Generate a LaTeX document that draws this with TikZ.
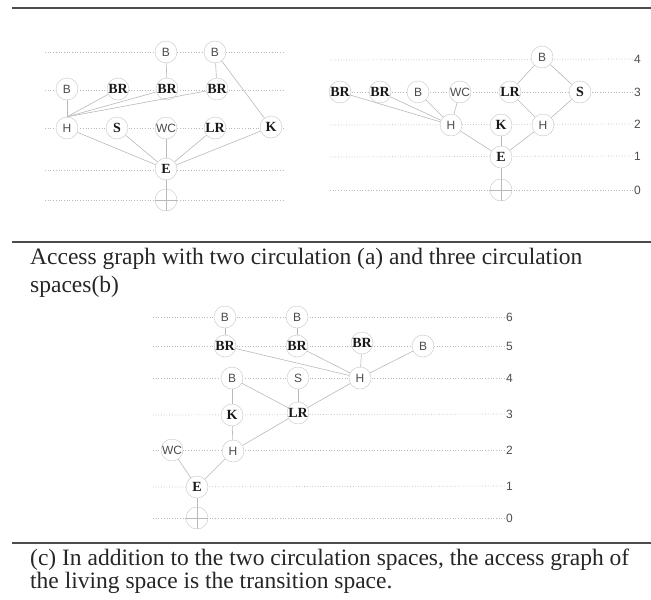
\documentclass[tikz,border=0pt]{standalone}
\usepackage{fontspec}
\setmainfont{Liberation Serif}
\newfontfamily\labelsans{Liberation Sans}
\tikzstyle{edgeline} = [draw=gray!55, line width=0.6pt]
\tikzstyle{levelline} = [
  draw=gray!55,
  dotted,
  line width=0.7pt
]
\tikzstyle{roomsans} = [
  circle,
  minimum size=22pt,
  inner sep=0pt,
  draw=gray!45,
  fill=white,
  text=black!70,
  font=\labelsans\fontsize{12}{12}\selectfont
]
\tikzstyle{roomserif} = [
  roomsans,
  text=black!90,
  font=\bfseries\fontsize{14}{14}\selectfont
]
\tikzstyle{exterior} = [
  circle,
  minimum size=22pt,
  inner sep=0pt,
  draw=gray!45,
  fill=white
]
\tikzstyle{levelnum} = [
  anchor=west,
  inner sep=1pt,
  text=black!70,
  font=\labelsans\fontsize{12}{12}\selectfont
]
\tikzstyle{rule} = [draw=black!70, line width=1.5pt]
% base anchor sits on the last line of a caption
\tikzstyle{caption} = [
  anchor=base west,
  inner sep=0pt,
  align=left,
  text=black!85
]

\begin{document}
\begin{tikzpicture}[x=1pt, y=-1pt]
  \useasboundingbox (0,0) rectangle (651,600);

  \draw[rule] (12,8) -- (651,8);

  %% (a) two circulation spaces
  \draw[levelline] (45,52) -- (283,52);
  \draw[levelline] (45,90) -- (283,90);
  \draw[levelline] (45,128) -- (283,128);
  \draw[levelline] (45,170) -- (283,170);
  \draw[levelline] (45,200) -- (283,200);

  \node[roomsans] (aB1) at (166,52) {B};
  \node[roomsans] (aB2) at (215,52) {B};
  \node[roomsans] (aB3) at (67,89) {B};
  \node[roomserif] (aBR1) at (118,89) {BR};
  \node[roomserif] (aBR2) at (167,89) {BR};
  \node[roomserif] (aBR3) at (217,89) {BR};
  \node[roomsans] (aH) at (67,128) {H};
  \node[roomserif] (aS) at (117,128) {S};
  \node[roomsans] (aWC) at (166,128) {WC};
  \node[roomserif] (aLR) at (215,128) {LR};
  \node[roomserif] (aK) at (271,127) {K};
  \node[roomserif] (aE) at (166,169) {E};
  \node[exterior] (aO) at (166,200) {};

  \draw[edgeline] (aB1) -- (aBR2);
  \draw[edgeline] (aB2) -- (aBR3);
  \draw[edgeline] (aB2) -- (aK);
  \draw[edgeline] (aB3) -- (aH);
  \draw[edgeline] (aBR1) -- (aH.north);
  \draw[edgeline] (aBR2) -- (aH.north);
  \draw[edgeline] (aBR3) -- (aH.north);
  \draw[edgeline] (aH) -- (aE);
  \draw[edgeline] (aS) -- (aE);
  \draw[edgeline] (aWC) -- (aE);
  \draw[edgeline] (aLR) -- (aE);
  \draw[edgeline] (aK) -- (aE);
  \draw[edgeline] (aE) -- (aO);
  \draw[edgeline] (aO.north) -- (aO.south);
  \draw[edgeline] (aO.west) -- (aO.east);

  %% (b) three circulation spaces
  \node[levelnum] (bL4) at (633,59) {4};
  \node[levelnum] (bL3) at (633,92) {3};
  \node[levelnum] (bL2) at (633,124) {2};
  \node[levelnum] (bL1) at (633,156) {1};
  \node[levelnum] (bL0) at (633,190) {0};
  \draw[levelline] (330,60) -- (bL4);
  \draw[levelline] (330,92) -- (bL3);
  \draw[levelline] (330,125) -- (bL2);
  \draw[levelline] (330,157) -- (bL1);
  \draw[levelline] (330,190) -- (bL0);

  \node[roomsans] (bB1) at (542,57) {B};
  \node[roomserif] (bBR1) at (340,92) {BR};
  \node[roomserif] (bBR2) at (380,92) {BR};
  \node[roomsans] (bB2) at (418,92) {B};
  \node[roomsans] (bWC) at (460,92) {WC};
  \node[roomserif] (bLR) at (510,92) {LR};
  \node[roomserif] (bS) at (580,92) {S};
  \node[roomsans] (bH1) at (451,125) {H};
  \node[roomserif] (bK) at (501,125) {K};
  \node[roomsans] (bH2) at (543,125) {H};
  \node[roomserif] (bE) at (501,157) {E};
  \node[exterior] (bO) at (501,190) {};

  \draw[edgeline] (bB1) -- (bLR);
  \draw[edgeline] (bB1) -- (bS);
  \draw[edgeline] (bBR1) -- (bH1);
  \draw[edgeline] (bBR2) -- (bH1);
  \draw[edgeline] (bB2) -- (bH1);
  \draw[edgeline] (bWC) -- (bH1);
  \draw[edgeline] (bLR) -- (bH2);
  \draw[edgeline] (bS) -- (bH2);
  \draw[edgeline] (bH1) -- (bE);
  \draw[edgeline] (bK) -- (bE);
  \draw[edgeline] (bH2) -- (bE);
  \draw[edgeline] (bE) -- (bO);
  \draw[edgeline] (bO.north) -- (bO.south);
  \draw[edgeline] (bO.west) -- (bO.east);

  \draw[rule] (12,242) -- (651,242);
  \node[caption, font=\fontsize{23.5}{28}\selectfont] (capAB) at (30,292)
    {Access graph with two circulation (a) and three circulation\\spaces(b)};

  %% (c) living space as transition space
  \node[levelnum] (cL6) at (505,317) {6};
  \node[levelnum] (cL5) at (505,346) {5};
  \node[levelnum] (cL4) at (505,378) {4};
  \node[levelnum] (cL3) at (505,414) {3};
  \node[levelnum] (cL2) at (505,450) {2};
  \node[levelnum] (cL1) at (505,486) {1};
  \node[levelnum] (cL0) at (505,518) {0};
  \draw[levelline] (153,317) -- (cL6);
  \draw[levelline] (153,346) -- (cL5);
  \draw[levelline] (153,378) -- (cL4);
  \draw[levelline] (153,415) -- (cL3);
  \draw[levelline] (153,450) -- (cL2);
  \draw[levelline] (153,487) -- (cL1);
  \draw[levelline] (153,518) -- (cL0);

  \node[roomsans] (cB1) at (225,317) {B};
  \node[roomsans] (cB2) at (297,317) {B};
  \node[roomserif] (cBR1) at (225,346) {BR};
  \node[roomserif] (cBR2) at (297,346) {BR};
  \node[roomserif] (cBR3) at (362,343) {BR};
  \node[roomsans] (cB3) at (423,346) {B};
  \node[roomsans] (cB4) at (232,378) {B};
  \node[roomsans] (cS) at (298,378) {S};
  \node[roomsans] (cH1) at (360,378) {H};
  \node[roomserif] (cK) at (232,415) {K};
  \node[roomserif] (cLR) at (298,413) {LR};
  \node[roomsans] (cWC) at (172,450) {WC};
  \node[roomsans] (cH2) at (233,451) {H};
  \node[roomserif] (cE) at (197,487) {E};
  \node[exterior] (cO) at (197,518) {};

  \draw[edgeline] (cB1) -- (cBR1);
  \draw[edgeline] (cB2) -- (cBR2);
  \draw[edgeline] (cBR1) -- (cH1);
  \draw[edgeline] (cBR2) -- (cH1);
  \draw[edgeline] (cBR3) -- (cH1);
  \draw[edgeline] (cB3) -- (cH1);
  \draw[edgeline] (cB4) -- (cK);
  \draw[edgeline] (cB4) -- (cLR);
  \draw[edgeline] (cS) -- (cLR);
  \draw[edgeline] (cH1) -- (cLR);
  \draw[edgeline] (cLR) -- (cH2);
  \draw[edgeline] (cK) -- (cH2);
  \draw[edgeline] (cWC) -- (cE);
  \draw[edgeline] (cH2) -- (cE);
  \draw[edgeline] (cE) -- (cO);
  \draw[edgeline] (cO.north) -- (cO.south);
  \draw[edgeline] (cO.west) -- (cO.east);

  \draw[rule] (12,543) -- (651,543);
  \node[caption, font=\fontsize{23.5}{22.5}\selectfont] (capC) at (30,588)
    {(c) In addition to the two circulation spaces, the access graph of\\the living space is the transition space.};
\end{tikzpicture}
\end{document}
